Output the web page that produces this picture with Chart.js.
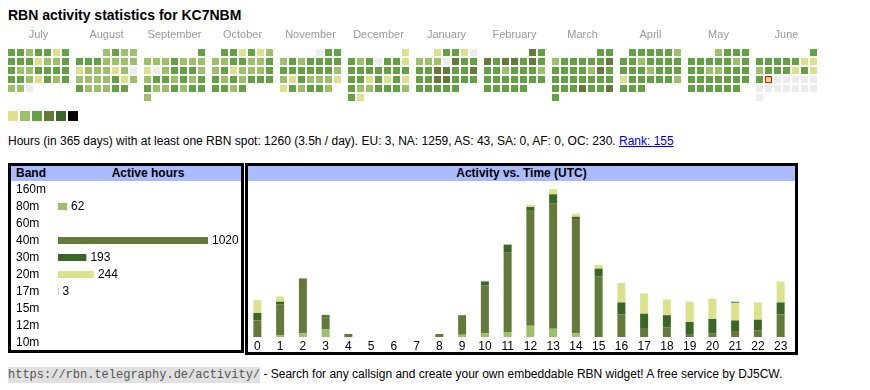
<!DOCTYPE html>
<html>
<head>
<meta charset="utf-8">
<script src="https://cdn.jsdelivr.net/npm/chart.js@4.4.1/dist/chart.umd.min.js"></script>
<style>
body { margin:0; background:#fff; font-family: Arial, "Liberation Sans", sans-serif; color:#000; }
#title { position:absolute; left:8px; top:7px; font-size:14px; font-weight:bold; white-space:nowrap; }
#calChart { position:absolute; left:0; top:24px; }
#summary { position:absolute; left:8px; top:134px; font-size:12px; white-space:nowrap; }
#summary a { color:#0000ee; }
.box { position:absolute; border:3px solid #000; box-sizing:border-box; }
#bandBox { left:8px; top:163px; width:236px; height:190px; }
#timeBox { left:245px; top:163px; width:553px; height:192px; }
.head { position:absolute; left:0; right:0; top:0; height:15px; background:#aabbff; font-weight:bold; font-size:12px; line-height:15px; white-space:nowrap; }
#bandChart { position:absolute; left:11px; top:181px; }
#timeChart { position:absolute; left:246px; top:181px; }
#footer { position:absolute; left:8px; top:367px; font-size:12px; white-space:nowrap; }
#footer code { font-family:"Liberation Mono", "DejaVu Sans Mono", monospace; font-size:12px; background:#e0e0e0; color:#555; padding:1px 0; }
</style>
</head>
<body>
<div id="title">RBN activity statistics for KC7NBM</div>
<canvas id="calChart" width="830" height="100"></canvas>
<div id="summary">Hours (in 365 days) with at least one RBN spot: 1260 (3.5h / day). EU: 3, NA: 1259, AS: 43, SA: 0, AF: 0, OC: 230. <a href="#">Rank: 155</a></div>

<div class="box" id="bandBox">
  <div class="head"><span style="position:absolute;left:5px">Band</span><span style="position:absolute;left:137px;transform:translateX(-50%)">Active hours</span></div>
</div>
<div class="box" id="timeBox">
  <div class="head" style="text-align:center">Activity vs. Time (UTC)</div>
</div>
<canvas id="bandChart" width="230" height="170"></canvas>
<canvas id="timeChart" width="546" height="171"></canvas>

<div id="footer"><code>https://rbn.telegraphy.de/activity/</code> - Search for any callsign and create your own embeddable RBN widget! A free service by DJ5CW.</div>

<script>
// ---- data ----
const monthNames = ['July','August','September','October','November','December','January','February','March','April','May','June'];
// activity level per day (0 = none, 1..5 = more hours), one string per month, starting July 2024
const dayLevels = [
  '3323313333122332233333321323220',
  '2322333222212221202222312322233',
  '322232221023332233232332232332',
  '3313122233223231222332323333323',
  '033232333333333322132221132332',
  '1323033133333333313131322333231',
  '1331022204333344334334433333333',
  '4343443433323332333333333333',
  '3323333343333243333333333343343',
  '333332332333333323331333332333',
  '2333333332333223333333333333333',
  '333333112333131310000000000000'
];
const firstYear = 2024, firstMonth = 6;
const todayIdx = { month: 11, day: 17 };

const bands = ['160m','80m','60m','40m','30m','20m','17m','15m','12m','10m'];
const bandHours = [0, 62, 0, 1020, 193, 244, 3, 0, 0, 0];

const hourLabels = ['0','1','2','3','4','5','6','7','8','9','10','11','12','13','14','15','16','17','18','19','20','21','22','23'];
const hours80m = [0, 2, 5, 10, 0, 0, 0, 0, 0, 3, 5, 6, 15, 11, 5, 0, 0, 0, 0, 0, 0, 0, 0, 0];
const hours40m = [22, 41, 73, 16, 4, 0, 0, 0, 4, 26, 64, 107, 153, 167, 151, 81, 30, 12, 13, 4, 5, 8, 9, 30];
const hours30m = [10, 4, 0, 3, 0, 0, 0, 0, 0, 0, 5, 10, 5, 12, 4, 10, 16, 19, 16, 16, 19, 14, 14, 16];
const hours20m = [17, 7, 0, 1, 0, 0, 0, 0, 0, 0, 0, 0, 3, 7, 4, 5, 24, 27, 21, 27, 27, 23, 23, 28];
const hours17m = [0, 0, 0, 0, 0, 0, 0, 0, 0, 0, 0, 0, 0, 0, 0, 0, 1, 0, 0, 0, 0, 2, 0, 0];

// ---- styles ----
const levelColors = ['#ececec', '#dbe28b', '#9dc16a', '#64a044', '#647a3a', '#3a6727'];
const legendColors = ['#dbe28b', '#9dc16a', '#64a044', '#647a3a', '#3a6727', '#000000'];
const bandColors = { '80m': '#9dc16a', '40m': '#647a3a', '30m': '#3a6727', '20m': '#dbe28b', '17m': '#64a044' };

Chart.defaults.font.family = 'Arial, "Liberation Sans", sans-serif';
Chart.defaults.color = '#000';
Chart.defaults.animation = false;

// calendar layout (in px units of the scales)
const CELL = 7, STEP = 9, MONTH_STEP = 68, X0 = 8, Y0 = 5;

const calPoints = [];
dayLevels.forEach(function (str, m) {
  const first = (new Date(firstYear, firstMonth + m, 1).getDay() + 6) % 7; // monday first
  for (let d = 0; d < str.length; d++) {
    const pos = first + d;
    calPoints.push({
      x: X0 + m * MONTH_STEP + (pos % 7) * STEP + CELL / 2,
      y: Y0 + Math.floor(pos / 7) * STEP + CELL / 2,
      level: +str[d],
      month: m, day: d + 1
    });
  }
});
const todayPoint = calPoints.filter(p => p.month === todayIdx.month && p.day === todayIdx.day);
const legendPoints = legendColors.map((c, i) => ({ x: X0 + 5 + i * 12, y: 72 }));
const monthCenters = monthNames.map((n, m) => X0 + m * MONTH_STEP + (7 * STEP - 2) / 2);

new Chart(document.getElementById('calChart'), {
  type: 'scatter',
  data: {
    datasets: [
      { data: todayPoint, pointStyle: 'rect', pointRadius: 6 / Math.SQRT2,
        backgroundColor: ctx => levelColors[ctx.raw.level], borderColor: '#ff0000', borderWidth: 1 },
      { data: calPoints, pointStyle: 'rect', pointRadius: CELL / Math.SQRT2, borderWidth: 0,
        backgroundColor: ctx => levelColors[ctx.raw.level] },
      { data: legendPoints, pointStyle: 'rect', pointRadius: 10 / Math.SQRT2, borderWidth: 0,
        backgroundColor: legendColors }
    ]
  },
  options: {
    responsive: false,
    events: [],
    layout: { padding: 0, autoPadding: false },
    plugins: { legend: { display: false }, tooltip: { enabled: false } },
    scales: {
      x: {
        type: 'linear', position: 'top', min: 0, max: 830,
        grid: { display: false, drawTicks: false }, border: { display: false },
        afterBuildTicks: s => { s.ticks = monthCenters.map(v => ({ value: v })); },
        afterFit: s => { s.height = 20; s.paddingLeft = 0; s.paddingRight = 0; },
        ticks: { autoSkip: false, maxRotation: 0, padding: 2, color: '#999', font: { size: 11 },
          callback: (v, i) => monthNames[i] }
      },
      y: { display: false, min: 0, max: 80, reverse: true }
    }
  }
});

// value labels next to horizontal bars
const valueLabels = {
  id: 'valueLabels',
  afterDatasetsDraw(chart) {
    const ctx = chart.ctx;
    ctx.save();
    ctx.font = '12px Arial, "Liberation Sans", sans-serif';
    ctx.fillStyle = '#000';
    ctx.textBaseline = 'middle';
    chart.getDatasetMeta(0).data.forEach((bar, i) => {
      const v = chart.data.datasets[0].data[i];
      if (v > 0) ctx.fillText(v, bar.x + 4, bar.y);
    });
    ctx.restore();
  }
};

new Chart(document.getElementById('bandChart'), {
  type: 'bar',
  data: {
    labels: bands,
    datasets: [{ data: bandHours, barThickness: 7, inflateAmount: 0,
      backgroundColor: bands.map(b => bandColors[b] || '#64a044') }]
  },
  options: {
    responsive: false,
    indexAxis: 'y',
    events: [],
    layout: { padding: { left: 5, right: 33, top: 0, bottom: 0 } },
    plugins: { legend: { display: false }, tooltip: { enabled: false } },
    scales: {
      x: { display: false, min: 0, max: Math.max(...bandHours) },
      y: {
        grid: { display: false, drawTicks: false }, border: { display: false },
        afterFit: s => { s.width = 42; s.paddingTop = 0; s.paddingBottom = 0; },
        ticks: { autoSkip: false, crossAlign: 'far', padding: 0, font: { size: 12 }, color: '#000' }
      }
    }
  },
  plugins: [valueLabels]
});

new Chart(document.getElementById('timeChart'), {
  type: 'bar',
  data: {
    labels: hourLabels,
    datasets: [
      { label: '80m', data: hours80m, backgroundColor: bandColors['80m'] },
      { label: '40m', data: hours40m, backgroundColor: bandColors['40m'] },
      { label: '30m', data: hours30m, backgroundColor: bandColors['30m'] },
      { label: '20m', data: hours20m, backgroundColor: bandColors['20m'] },
      { label: '17m', data: hours17m, backgroundColor: bandColors['17m'] }
    ]
  },
  options: {
    responsive: false,
    events: [],
    datasets: { bar: { barThickness: 8, inflateAmount: 0 } },
    layout: { padding: { top: 8, left: 0, right: 0, bottom: 0 } },
    plugins: { legend: { display: false }, tooltip: { enabled: false } },
    scales: {
      x: {
        stacked: true,
        grid: { display: false, drawTicks: false }, border: { display: false },
        afterFit: s => { s.height = 15; },
        ticks: { padding: 2, font: { size: 12 }, color: '#000', autoSkip: false, maxRotation: 0 }
      },
      y: { stacked: true, display: false, min: 0, bounds: 'data' }
    }
  }
});
</script>
</body>
</html>
